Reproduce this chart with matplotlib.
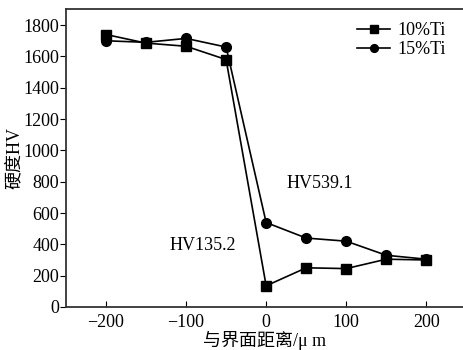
import numpy as np
import matplotlib.pyplot as plt

plt.rcParams['font.family'] = ['Liberation Serif', 'Noto Sans CJK SC']

dist = [-200, -150, -100, -50, 0, 50, 100, 150, 200]
hv_10ti = [1740, 1685, 1665, 1580, 135, 250, 245, 305, 300]
hv_15ti = [1700, 1690, 1715, 1660, 539, 440, 420, 330, 305]

fig = plt.figure(figsize=(4.64, 3.5), dpi=100)
ax = fig.add_axes([0.142, 0.123, 0.858, 0.850])

ax.plot(dist, hv_10ti, color="black", lw=1.2, marker="s", ms=7, label="10%Ti")
ax.plot(dist, hv_15ti, color="black", lw=1.2, marker="o", ms=7, label="15%Ti")

ax.set_xlim(-250, 247)
ax.set_ylim(0, 1900)
ax.set_xticks([-200, -100, 0, 100, 200])
ax.set_xticklabels(["\u2212200", "\u2212100", "0", "100", "200"])
ax.set_yticks(np.arange(0, 1801, 200))

ax.spines["right"].set_visible(False)
for s in ["left", "bottom", "top"]:
    ax.spines[s].set_linewidth(1.3)
    ax.spines[s].set_color("#333333")
ax.tick_params(axis="x", direction="in", length=4, labelsize=13, pad=5)
ax.tick_params(axis="y", direction="out", length=4, labelsize=13, pad=1)
ax.tick_params(top=False, right=False)

ax.text(25, 790, "HV539.1", fontsize=13, va="center")
ax.text(-121, 390, "HV135.2", fontsize=13, va="center")

ax.set_xlabel("与界面距离/μ m", fontsize=13, labelpad=0)
ax.set_ylabel("硬度HV", fontsize=13, labelpad=0)

ax.legend(loc="upper right", frameon=False, fontsize=13, handlelength=1.8,
          handletextpad=0.4, labelspacing=0.1, borderaxespad=0.3,
          markerscale=0.8, bbox_to_anchor=(0.985, 1.0))

plt.savefig("out.png", dpi=100)
